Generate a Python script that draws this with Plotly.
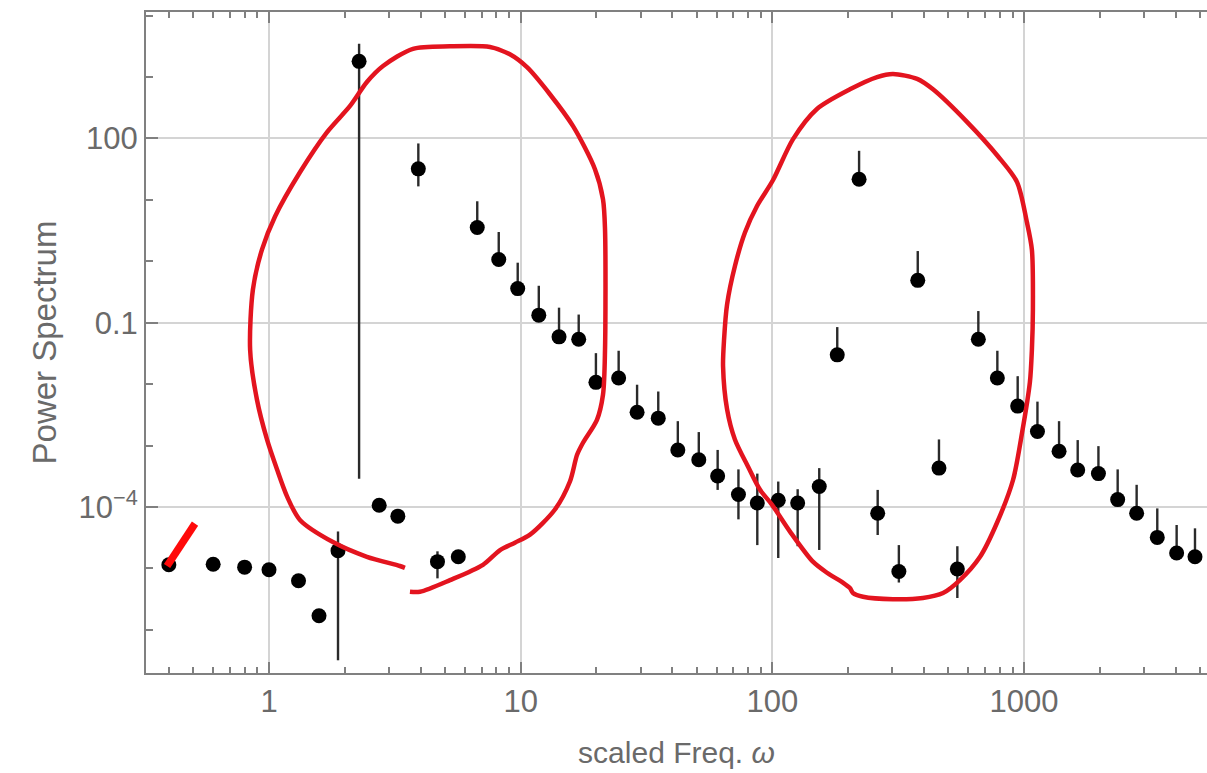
import numpy as np
import plotly.graph_objects as go

# Power spectrum estimate: frequency, value, upper and lower error limits
omega = [0.40, 0.60, 0.80, 1.00, 1.31, 1.58, 1.88, 2.28, 2.74, 3.25,
         3.92, 4.67, 5.65, 6.72, 8.18, 9.73, 11.8, 14.2, 17.0, 19.9,
         24.5, 29.0, 35.2, 42.1, 51.0, 60.6, 73.3, 87.1, 105.5, 126.0,
         153.5, 181.0, 221.0, 262.0, 318.0, 378.0, 459.0, 543.0, 658.0, 783.0,
         943.0, 1130.0, 1377.0, 1633.0, 1974.0, 2354.0, 2800.0, 3382.0, 4037.0, 4775.0]
power = [1.15e-5, 1.17e-5, 1.05e-5, 9.5e-6, 6.3e-6, 1.7e-6, 1.95e-5, 1800.0, 1.07e-4, 7.1e-5,
         32.0, 1.29e-5, 1.55e-5, 3.55, 1.07, 0.36, 0.133, 0.059, 0.054, 0.0107,
         0.0126, 3.5e-3, 2.8e-3, 8.5e-4, 5.9e-4, 3.2e-4, 1.6e-4, 1.16e-4, 1.29e-4, 1.16e-4,
         2.16e-4, 0.030, 21.7, 7.9e-5, 8.9e-6, 0.49, 4.3e-4, 9.8e-6, 0.054, 0.0126,
         4.4e-3, 1.7e-3, 8.1e-4, 4.0e-4, 3.5e-4, 1.32e-4, 7.9e-5, 3.2e-5, 1.78e-5, 1.55e-5]
power_hi = [1.15e-5, 1.17e-5, 1.05e-5, 9.5e-6, 6.3e-6, 1.7e-6, 4.0e-5, 3470.0, 1.07e-4, 7.1e-5,
            83.0, 1.9e-5, 1.55e-5, 9.5, 3.0, 0.95, 0.40, 0.176, 0.136, 0.032,
            0.035, 9.8e-3, 7.6e-3, 2.5e-3, 1.66e-3, 8.5e-4, 4.1e-4, 3.5e-4, 2.6e-4, 1.95e-4,
            4.3e-4, 0.085, 63.0, 1.9e-4, 2.4e-5, 1.47, 1.26e-3, 2.3e-5, 0.155, 0.035,
            0.0135, 5.2e-3, 2.5e-3, 1.23e-3, 9.8e-4, 4.1e-4, 2.3e-4, 9.5e-5, 5.1e-5, 4.5e-5]
power_lo = [1.15e-5, 1.17e-5, 1.05e-5, 9.5e-6, 6.3e-6, 1.7e-6, 3.2e-7, 2.9e-4, 1.07e-4, 7.1e-5,
            16.6, 6.9e-6, 1.55e-5, 3.55, 1.07, 0.36, 0.133, 0.059, 0.054, 0.0107,
            0.0126, 3.5e-3, 2.8e-3, 8.5e-4, 5.9e-4, 1.9e-4, 6.3e-5, 2.4e-5, 1.48e-5, 2.3e-5,
            2.0e-5, 0.030, 21.7, 3.5e-5, 5.9e-6, 0.49, 4.3e-4, 3.3e-6, 0.054, 0.0126,
            4.4e-3, 1.7e-3, 8.1e-4, 4.0e-4, 3.5e-4, 1.32e-4, 7.9e-5, 3.2e-5, 1.78e-5, 1.55e-5]

# Axis ticks
x_major = [1, 10, 100, 1000]
x_major_text = ["1", "10", "100", "1000"]
x_minor = [m * 10.0 ** e for e in (-1, 0, 1, 2, 3) for m in range(2, 10)]
y_major = [1e-4, 0.1, 100]
y_major_text = ["10<sup>\u22124</sup>", "0.1", "100"]
y_minor = [1e-6, 1e-5, 1e-3, 1e-2, 1, 10, 1000, 1e4]

# Hand-drawn highlight outlines, as (log10 ω, log10 P) pairs
low_band_outline = [
    (0.560, -5.38), (0.600, -5.38), (0.719, -5.19), (0.850, -4.94), (0.918, -4.70),
    (0.977, -4.58), (1.037, -4.45), (1.136, -4.04), (1.196, -3.58), (1.224, -3.15),
    (1.248, -2.95), (1.303, -2.58), (1.327, -2.17), (1.335, -1.44), (1.335, 0.52),
    (1.327, 1.01), (1.295, 1.50), (1.208, 2.20), (1.116, 2.72), (1.025, 3.16),
    (0.957, 3.37), (0.878, 3.49), (0.719, 3.50), (0.572, 3.46), (0.453, 3.18),
    (0.389, 2.92), (0.322, 2.53), (0.230, 2.10), (0.123, 1.45), (0.024, 0.73),
    (-0.028, 0.19), (-0.064, -0.46), (-0.075, -1.44), (-0.048, -2.25), (-0.008, -2.90),
    (0.032, -3.39), (0.072, -3.83), (0.123, -4.21), (0.254, -4.57), (0.389, -4.81),
    (0.520, -4.96), (0.540, -4.99),
]
high_band_outline = [
    (2.308, -5.32), (2.280, -5.23), (2.217, -5.07), (2.161, -4.89), (2.070, -4.40),
    (1.998, -3.96), (1.951, -3.72), (1.903, -3.34), (1.851, -2.90), (1.820, -2.41),
    (1.804, -1.71), (1.808, -1.27), (1.820, -0.70), (1.851, -0.08), (1.891, 0.47),
    (1.939, 0.90), (2.002, 1.32), (2.082, 1.99), (2.177, 2.48), (2.308, 2.80),
    (2.416, 3.00), (2.479, 3.05), (2.575, 2.97), (2.638, 2.80), (2.773, 2.27),
    (2.896, 1.71), (2.972, 1.29), (3.011, 0.64), (3.031, 0.19), (3.035, -0.78),
    (3.031, -1.44), (3.023, -1.97), (2.992, -2.79), (2.956, -3.56), (2.892, -4.26),
    (2.825, -4.81), (2.745, -5.19), (2.678, -5.40), (2.598, -5.48), (2.479, -5.50),
    (2.360, -5.46), (2.320, -5.40), (2.308, -5.32),
]
first_point_mark = [(-0.405, -4.96), (-0.294, -4.27)]

pw = np.array(power)
err_plus = np.array(power_hi) - pw
err_minus = pw - np.array(power_lo)

fig = go.Figure()
fig.add_trace(go.Scatter(
    x=omega, y=power, mode="markers",
    marker=dict(color="black", size=15),
    error_y=dict(type="data", symmetric=False, array=err_plus, arrayminus=err_minus,
                 color="#2a2a2a", thickness=2.4, width=0),
    showlegend=False, hoverinfo="skip",
))


def outline_trace(pts, color, width, shape="spline"):
    lx, ly = zip(*pts)
    return go.Scatter(
        x=10 ** np.array(lx), y=10 ** np.array(ly), mode="lines",
        line=dict(color=color, width=width, shape=shape, smoothing=0.8),
        showlegend=False, hoverinfo="skip",
    )


fig.add_trace(outline_trace(low_band_outline, "#E3141F", 4.5))
fig.add_trace(outline_trace(high_band_outline, "#E3141F", 4.5))
fig.add_trace(outline_trace(first_point_mark, "#FF0A0A", 7.5, shape="linear"))

font_family = "Liberation Sans, Arial, sans-serif"
axis_color = "#808080"
grid_color = "#d4d4d4"
label_color = "#6a6a6a"

fig.update_xaxes(
    type="log", range=[-0.4887, 3.7267],
    tickmode="array", tickvals=x_major, ticktext=x_major_text,
    ticks="inside", ticklen=11, tickwidth=1.5, tickcolor=axis_color,
    minor=dict(tickmode="array", tickvals=x_minor, ticks="inside", ticklen=6,
               tickwidth=1.5, tickcolor=axis_color, showgrid=False),
    showline=True, linecolor=axis_color, linewidth=2, mirror="ticks",
    showgrid=True, gridcolor=grid_color, gridwidth=1.5, zeroline=False,
    tickfont=dict(family=font_family, size=31, color=label_color),
    title=dict(text="scaled Freq. <i>\u03c9</i>", standoff=24,
               font=dict(family=font_family, size=30, color=label_color)),
)
fig.update_yaxes(
    type="log", range=[-6.702, 4.059],
    tickmode="array", tickvals=y_major, ticktext=y_major_text,
    ticks="inside", ticklen=12, tickwidth=1.5, tickcolor=axis_color,
    minor=dict(tickmode="array", tickvals=y_minor, ticks="inside", ticklen=7,
               tickwidth=1.5, tickcolor=axis_color, showgrid=False),
    showline=True, linecolor=axis_color, linewidth=2, mirror=False,
    showgrid=True, gridcolor=grid_color, gridwidth=1.5, zeroline=False,
    tickfont=dict(family=font_family, size=31, color=label_color),
    title=dict(text="Power Spectrum", standoff=12,
               font=dict(family=font_family, size=33, color=label_color)),
)
fig.update_layout(
    width=1207, height=773,
    margin=dict(l=146, r=0, t=12, b=100),
    paper_bgcolor="white", plot_bgcolor="white",
)
fig.write_html("out.html")
